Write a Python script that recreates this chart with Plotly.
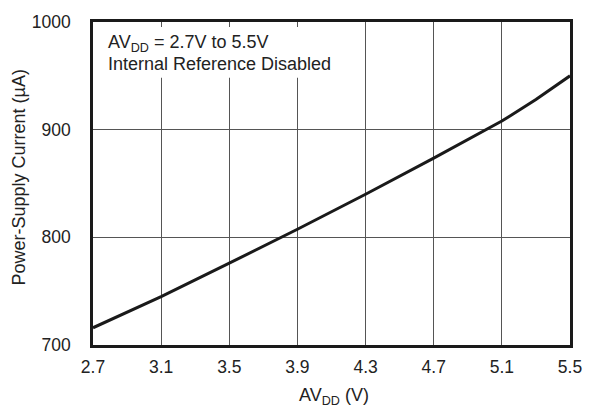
import plotly.graph_objects as go

avdd = [2.7, 3.1, 3.5, 3.9, 4.3, 4.7, 5.1, 5.3, 5.5]
current = [716, 745, 776, 807.5, 840, 873.5, 908, 928, 950]
x_ticks = [2.7, 3.1, 3.5, 3.9, 4.3, 4.7, 5.1, 5.5]
y_ticks = [700, 800, 900, 1000]

FONT = "Liberation Sans, Arial, Helvetica, sans-serif"
TXT = "#222"

fig = go.Figure()
fig.add_trace(go.Scatter(x=avdd, y=current, mode="lines",
                         line=dict(color="#1a1a1a", width=3), showlegend=False))

fig.update_layout(
    width=594, height=410,
    margin=dict(l=93, r=15, t=15, b=65),
    paper_bgcolor="white", plot_bgcolor="white",
    font=dict(family=FONT, size=17.5, color=TXT),
    xaxis=dict(range=[2.7, 5.5], tickvals=x_ticks, ticktext=[f"{v:.1f}" for v in x_ticks],
               showgrid=True, gridcolor="#555", gridwidth=1,
               showline=True, linecolor="#1a1a1a", linewidth=2.5, mirror=True,
               ticks="", ticklabelstandoff=4, zeroline=False),
    yaxis=dict(range=[700, 1000], tickvals=y_ticks,
               showgrid=True, gridcolor="#555", gridwidth=1,
               showline=True, linecolor="#1a1a1a", linewidth=2.5, mirror=True,
               ticks="", ticklabelstandoff=16, zeroline=False),
)

# white box behind the note (covers gridlines)
fig.add_shape(type="rect", xref="paper", yref="paper", layer="above",
              x0=0.006, x1=(340 - 93) / 486, y0=(345 - 72) / 330, y1=(345 - 20) / 330,
              fillcolor="white", line=dict(width=0))

# note lines
fig.add_annotation(xref="paper", yref="paper", x=(106 - 93) / 486, y=(345 - 37) / 330,
                   xanchor="left", yanchor="middle", showarrow=False,
                   text="AV<sub>DD</sub> = 2.7V to 5.5V", font=dict(size=18, color=TXT))
fig.add_annotation(xref="paper", yref="paper", x=(106 - 93) / 486, y=(345 - 57.5) / 330,
                   xanchor="left", yanchor="middle", showarrow=False,
                   text="Internal Reference Disabled", font=dict(size=18, color=TXT))

# axis titles
fig.add_annotation(xref="paper", yref="paper", x=(338.5 - 93) / 486, y=(345 - 398) / 330,
                   xanchor="center", yanchor="middle", showarrow=False,
                   text="AV<sub>DD</sub> (V)", font=dict(size=18, color=TXT))
fig.add_annotation(xref="paper", yref="paper", x=(18 - 93) / 486, y=(345 - 173.5) / 330,
                   xanchor="center", yanchor="middle", showarrow=False, textangle=-90,
                   text="Power-Supply Current (µA)", font=dict(size=18, color=TXT))

fig.write_html("out.html", config={"displayModeBar": False},
               post_script="document.body.style.margin='0';")
